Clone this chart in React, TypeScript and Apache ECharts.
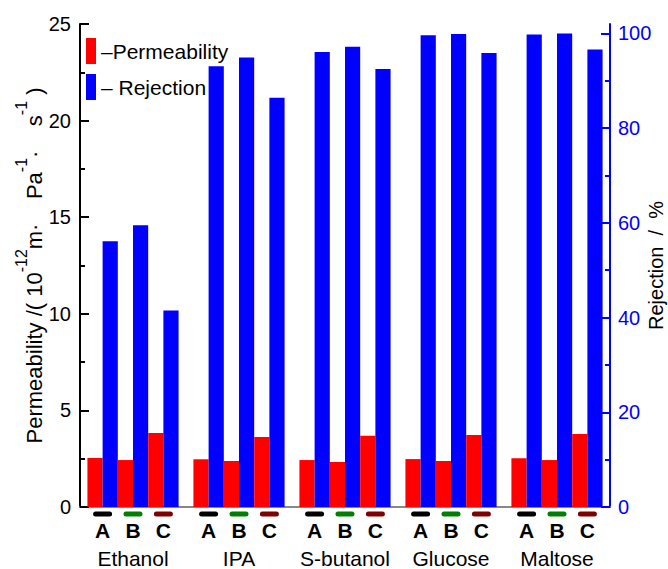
import React, { useEffect, useRef } from 'react';
import * as echarts from 'echarts';

const categories = ['Ethanol', 'IPA', 'S-butanol', 'Glucose', 'Maltose'];
const membranes = ['A', 'B', 'C'];
const membraneColors = ['#000000', '#008000', '#800000'];

// Permeability / (10^-12 m·Pa^-1·s^-1)
const permeabilityA = [2.54, 2.47, 2.43, 2.48, 2.52];
const permeabilityB = [2.43, 2.38, 2.33, 2.38, 2.43];
const permeabilityC = [3.83, 3.62, 3.69, 3.73, 3.78];

// Rejection / %
const rejectionA = [56.1, 93.1, 96.1, 99.6, 99.8];
const rejectionB = [59.5, 94.9, 97.2, 99.9, 100.0];
const rejectionC = [41.5, 86.4, 92.5, 95.9, 96.6];

const rightMajorTicks = [0, 20, 40, 60, 80, 100];
const rightMinorTicks = [10, 30, 50, 70, 90];

const FONT = '"Liberation Sans", Arial, Helvetica, sans-serif';

export default function App() {
  const ref = useRef<HTMLDivElement>(null);

  useEffect(() => {
    if (!ref.current) return;
    const chart = echarts.init(ref.current, undefined, { renderer: 'svg' });

    const perm = [permeabilityA, permeabilityB, permeabilityC];
    const rej = [rejectionA, rejectionB, rejectionC];
    const series: any[] = [];
    membranes.forEach((m, i) => {
      series.push({
        name: 'Permeability',
        id: 'perm' + m,
        type: 'bar',
        xAxisIndex: 0,
        yAxisIndex: 0,
        data: perm[i],
        itemStyle: { color: '#ff0000' },
        barGap: '0%',
        barCategoryGap: '14%',
      });
      series.push({
        name: 'Rejection',
        id: 'rej' + m,
        type: 'bar',
        xAxisIndex: 0,
        yAxisIndex: 1,
        data: rej[i],
        itemStyle: { color: '#0000ff' },
        barGap: '0%',
        barCategoryGap: '14%',
      });
    });

    const markerKeys = ['k', 'g', 'r'];
    const letterKeys = ['la', 'lb', 'lc'];
    const rich: any = {
      s: { width: 11.4, height: 5, lineHeight: 8, fontSize: 1, align: 'center' },
      n: { fontSize: 21, lineHeight: 32, color: '#000', fontFamily: FONT, width: 92, align: 'center' },
    };
    markerKeys.forEach((k, i) => {
      rich[k] = {
        width: 19,
        height: 5,
        lineHeight: 8,
        fontSize: 1,
        backgroundColor: membraneColors[i],
        borderRadius: 2.5,
        align: 'center',
      };
    });
    letterKeys.forEach((k) => {
      rich[k] = {
        width: 30.4,
        align: 'center',
        fontSize: 21,
        fontWeight: 'bold',
        lineHeight: 24,
        color: '#000',
        fontFamily: FONT,
      };
    });

    const option: any = {
      animation: false,
      textStyle: { fontFamily: FONT },
      grid: { left: 80, right: 58, top: 24, bottom: 62, containLabel: false, outerBoundsMode: 'none' },
      legend: {
        data: ['Permeability', 'Rejection'],
        orient: 'vertical',
        left: 86,
        top: 38,
        padding: 0,
        itemWidth: 10,
        itemHeight: 26,
        itemGap: 10,
        icon: 'rect',
        selectedMode: false,
        textStyle: { fontSize: 21, color: '#000', fontFamily: FONT },
        formatter: (name: string) => (name === 'Permeability' ? '\u2013Permeability' : '\u2013 Rejection'),
      },
      xAxis: [
        {
          type: 'category',
          data: categories,
          position: 'bottom',
          axisLine: { lineStyle: { color: '#808080', width: 1.5 } },
          axisTick: { show: false },
          axisLabel: {
            interval: 0,
            margin: 3,
            formatter: (v: string) =>
              '{k| }{s| }{g| }{s| }{r| }\n' +
              membranes.map((m, i) => '{' + letterKeys[i] + '|' + m + '}').join('') +
              '\n{n|' + v + '}',
            rich,
          },
          splitLine: { show: false },
        },
        {
          type: 'category',
          data: categories,
          position: 'top',
          axisLine: { lineStyle: { color: '#808080', width: 1.5 } },
          axisTick: { show: false },
          axisLabel: { show: false },
          splitLine: { show: false },
        },
      ],
      yAxis: [
        {
          type: 'value',
          position: 'left',
          min: 0,
          max: 25,
          interval: 5,
          name: '{n|Permeability /( 10}{sup|-12}{n|m\u00B7    Pa}{sup|-1}{n|\u00B7    s}{sup|-1}{n| )}',
          nameLocation: 'middle',
          nameRotate: 90,
          nameGap: 35,
          nameMoveOverlap: false,
          nameTextStyle: {
            rich: {
              n: { fontSize: 22, lineHeight: 32, verticalAlign: 'bottom', color: '#000', fontFamily: FONT },
              sup: { fontSize: 16, lineHeight: 32, verticalAlign: 'top', color: '#000', fontFamily: FONT },
            },
          },
          axisLine: { show: true, lineStyle: { color: '#000', width: 2 } },
          axisTick: { show: true, inside: true, length: 9, lineStyle: { color: '#000', width: 2 } },
          minorTick: { show: true, splitNumber: 2, length: 5, lineStyle: { color: '#000', width: 2 } },
          axisLabel: { fontSize: 20, color: '#000', margin: 9, fontFamily: FONT },
          splitLine: { show: false },
          minorSplitLine: { show: false },
        },
        {
          type: 'value',
          position: 'right',
          min: 0,
          max: 102,
          interval: 20,
          name: 'Rejection  /  %',
          nameLocation: 'middle',
          nameRotate: 90,
          nameGap: 36,
          nameMoveOverlap: false,
          nameTextStyle: { fontSize: 20, color: '#000', fontFamily: FONT },
          axisLine: { show: true, lineStyle: { color: '#0000ff', width: 2 } },
          axisTick: {
            show: true,
            inside: true,
            length: 9,
            customValues: rightMajorTicks,
            lineStyle: { color: '#0000ff', width: 2 },
          },
          axisLabel: {
            fontSize: 20,
            color: '#0000ff',
            margin: 8,
            fontFamily: FONT,
            customValues: rightMajorTicks,
          },
          splitLine: { show: false },
        },
        {
          type: 'value',
          position: 'right',
          min: 0,
          max: 102,
          interval: 20,
          axisLine: { show: false },
          axisTick: {
            show: true,
            inside: true,
            length: 5,
            customValues: rightMinorTicks,
            lineStyle: { color: '#0000ff', width: 2 },
          },
          axisLabel: { show: false },
          splitLine: { show: false },
        },
      ],
      series,
    };

    chart.setOption(option);
    return () => chart.dispose();
  }, []);

  return (
    <div
      ref={ref}
      style={{ position: 'absolute', left: 0, top: 0, width: 668, height: 569 }}
    />
  );
}
